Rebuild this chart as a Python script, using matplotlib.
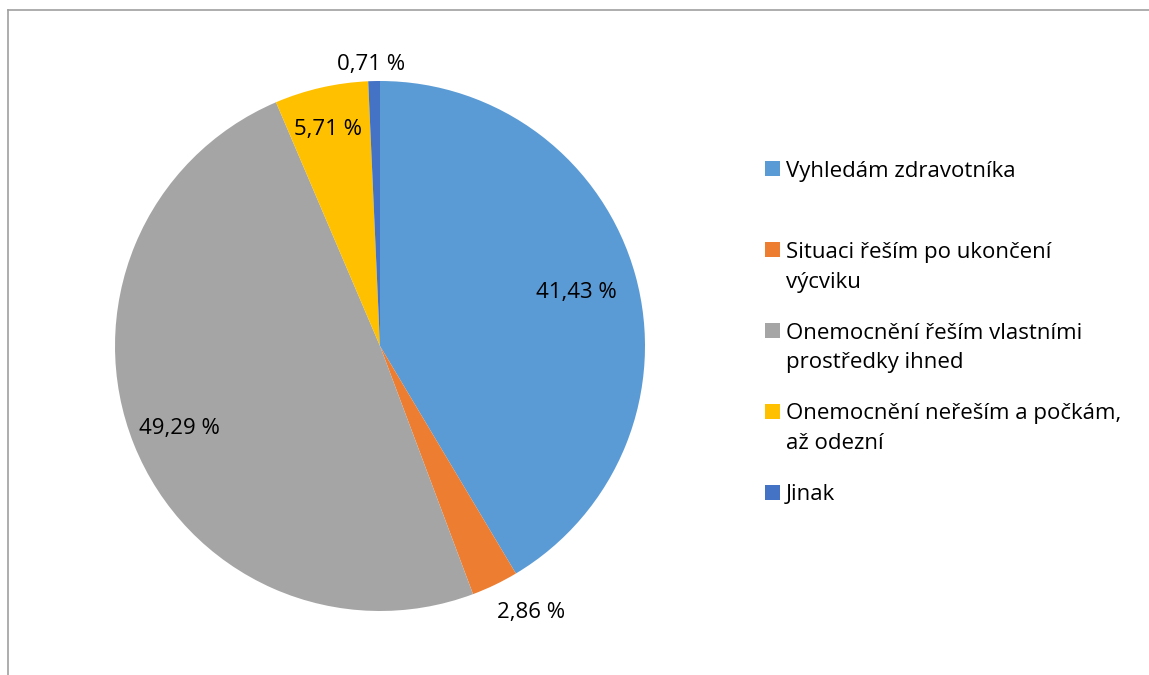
import numpy as np
import matplotlib
matplotlib.use("Agg")
import matplotlib.pyplot as plt
from matplotlib.patches import Rectangle
from matplotlib.lines import Line2D

plt.rcParams['font.family'] = ['Open Sans', 'DejaVu Sans']

categories = [
    "Vyhledám zdravotníka",
    "Situaci řeším po ukončení\nvýcviku",
    "Onemocnění řeším vlastními\nprostředky ihned",
    "Onemocnění neřeším a počkám,\naž odezní",
    "Jinak",
]
shares = [41.43, 2.86, 49.29, 5.71, 0.71]
value_labels = ["41,43 %", "2,86 %", "49,29 %", "5,71 %", "0,71 %"]
colors = ["#5B9BD5", "#ED7D31", "#A5A5A5", "#FFC000", "#4472C4"]

# label placement: radial distance (in radii) and angular nudge (degrees)
label_r = [0.77, 1.15, 0.815, 0.846, 1.07]
label_dtheta = [0.3, 4.0, 0.2, 0.6, 0.5]

FS = 16
LS = 1.55

W, H = 1149, 675
fig = plt.figure(figsize=(W / 100, H / 100), dpi=100)

# chart frame (top and left edges visible)
fig.add_artist(Line2D([8 / W, 8 / W], [0, 1 - 10 / H], color="#A0A0A0", lw=1.2))
fig.add_artist(Line2D([8 / W, 1], [1 - 10 / H, 1 - 10 / H], color="#A0A0A0", lw=1.2))

cx, cy, R = 380, 346, 265
ax = fig.add_axes([(cx - R) / W, (H - cy - R) / H, 2 * R / W, 2 * R / H])
wedges, _ = ax.pie(shares, colors=colors, startangle=90, counterclock=False,
                   radius=1.0, wedgeprops=dict(linewidth=0))
ax.set_xlim(-1, 1)
ax.set_ylim(-1, 1)
ax.set_aspect("equal")
ax.axis("off")

for w, lab, r, dt in zip(wedges, value_labels, label_r, label_dtheta):
    mid = np.deg2rad((w.theta1 + w.theta2) / 2 + dt)
    ax.text(r * np.cos(mid), r * np.sin(mid) - 0.006, lab, ha="center", va="center",
            fontsize=FS, color="#000000", clip_on=False)

# line pitch of multi-line legend text, in pixels
renderer = fig.canvas.get_renderer()
t1 = fig.text(0, 0, "Ag", fontsize=FS, linespacing=LS)
t2 = fig.text(0, 0, "Ag\nAg", fontsize=FS, linespacing=LS)
pitch = t2.get_window_extent(renderer).height - t1.get_window_extent(renderer).height
t1.remove()
t2.remove()

# legend
y0, dy = 169, 80.8
for i, (cat, col) in enumerate(zip(categories, colors)):
    y = y0 + dy * i
    fig.add_artist(Rectangle((765 / W, 1 - (y + 7.5) / H), 15 / W, 15 / H,
                             transform=fig.transFigure, facecolor=col, edgecolor="none"))
    nlines = cat.count("\n") + 1
    base = y + 8 + (nlines - 1) * pitch
    fig.text(786 / W, 1 - base / H, cat, ha="left", va="baseline", fontsize=FS,
             color="#000000", linespacing=LS)

fig.savefig("out.png", dpi=100)
